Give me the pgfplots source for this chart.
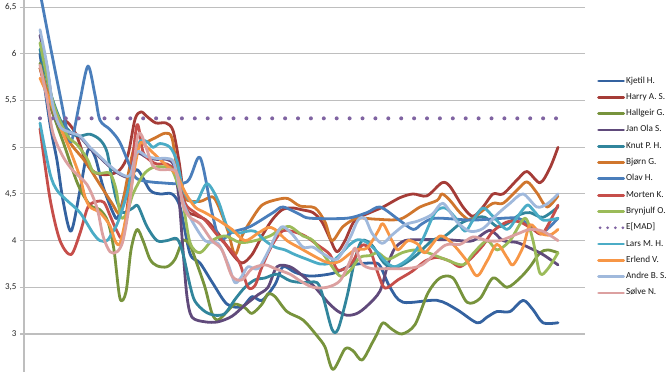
\documentclass[border=0pt]{standalone}
\usepackage{fontspec}
\setmainfont{Carlito}
\usepackage{pgfplots}
\pgfplotsset{compat=1.18}
\definecolor{cKjetil}{RGB}{52,98,160}
\definecolor{cHarry}{RGB}{165,60,55}
\definecolor{cHallgeir}{RGB}{119,147,60}
\definecolor{cJan}{RGB}{96,74,123}
\definecolor{cKnut}{RGB}{49,133,156}
\definecolor{cBjorn}{RGB}{208,118,45}
\definecolor{cOlav}{RGB}{74,126,187}
\definecolor{cMorten}{RGB}{198,78,74}
\definecolor{cBryn}{RGB}{155,187,89}
\definecolor{cEMAD}{RGB}{128,100,162}
\definecolor{cLars}{RGB}{75,172,198}
\definecolor{cErlend}{RGB}{247,150,70}
\definecolor{cAndre}{RGB}{160,185,220}
\definecolor{cSolve}{RGB}{220,160,160}
\definecolor{gridc}{RGB}{190,190,190}
\begin{document}
\begin{tikzpicture}
\begin{axis}[
  scale only axis, width=561pt, height=372pt,
  xmin=24, xmax=585, ymin=2.5924, ymax=6.578,
  axis x line=none, axis y line*=left,
  y axis line style={draw=gridc, line width=1.2pt, -},
  ytick={3,3.5,4,4.5,5,5.5,6,6.5},
  ymajorgrids, grid style={draw=gridc, line width=1.1pt},
  tick align=outside, major tick length=4pt,
  ytick style={draw=gridc, line width=1.1pt},
  /pgf/number format/assume math mode=true,
  yticklabel style={font=\fontsize{9}{10}\selectfont, text=black!85, /pgf/number format/.cd, use comma, fixed, precision=1},
  every axis plot/.append style={line width=2.8pt, smooth, line cap=round, line join=round},
  legend cell align=left,
  legend image code/.code={\draw[#1, line width=2.8pt] (0pt,0pt) -- (25pt,0pt);},
  legend style={at={(axis description cs:1.0214,0.796)}, anchor=north west, draw=none, fill=none, inner sep=0pt, row sep=6.3pt, font=\fontsize{9.2}{10}\selectfont, text=black!90, nodes={inner sep=1pt, text height=6pt, text depth=2pt}},
]
% Kjetil H.
\addplot[cKjetil] coordinates {(40,6.0) (50,5.25) (57,4.86) (63,4.43) (71,4.1) (80,4.54) (88,4.97) (95,4.9) (103,4.58) (113,4.30) (118,4.25) (127,4.58) (137,4.76) (150,4.54) (160,4.5) (172,4.5) (180,4.36) (190,3.86) (200,3.76) (213,3.54) (227,3.32) (242,3.29) (252,3.40) (262,3.36) (275,3.53) (283,3.72) (295,3.66) (310,3.62) (333,3.65) (353,3.74) (373,3.76) (380,3.73) (390,3.5) (403,3.34) (437,3.36) (457,3.26) (477,3.12) (487,3.18) (497,3.24) (510,3.24) (523,3.36) (533,3.26) (543,3.12) (558,3.12)};
\addlegendentry{Kjetil H.}
% Harry A. S.
\addplot[cHarry] coordinates {(40,5.85) (50,5.45) (58,5.25) (66,5.28) (76,5.14) (87,4.82) (97,4.72) (110,4.71) (120,4.76) (128,4.92) (135,5.3) (141,5.38) (148,5.32) (156,5.26) (166,5.26) (173,5.18) (179,4.85) (186,4.35) (196,4.27) (206,4.22) (218,4.08) (232,3.86) (242,3.76) (252,3.85) (262,4.05) (272,4.22) (282,4.33) (292,4.35) (302,4.33) (313,4.30) (322,4.2) (330,4.02) (337,3.88) (345,4.0) (355,4.22) (370,4.3) (383,4.36) (400,4.46) (413,4.5) (427,4.48) (442,4.62) (450,4.58) (463,4.36) (473,4.26) (483,4.36) (493,4.5) (503,4.5) (517,4.65) (527,4.74) (540,4.62) (550,4.78) (558,5.0)};
\addlegendentry{Harry A. S.}
% Hallgeir G.
\addplot[cHallgeir] coordinates {(40,5.9) (52,5.4) (65,5.0) (78,4.6) (90,4.38) (100,4.33) (108,4.2) (114,3.9) (120,3.38) (126,3.45) (131,3.9) (137,4.12) (143,4.0) (150,3.8) (157,3.73) (167,3.72) (175,3.8) (183,4.0) (190,3.95) (197,3.75) (205,3.5) (212,3.22) (218,3.15) (228,3.25) (235,3.32) (245,3.28) (252,3.22) (262,3.32) (268,3.43) (275,3.4) (287,3.24) (303,3.15) (317,2.98) (325,2.86) (333,2.62) (345,2.84) (353,2.82) (362,2.72) (372,2.9) (377,3.0) (383,3.12) (392,3.05) (402,3.0) (415,3.1) (428,3.44) (440,3.6) (453,3.6) (467,3.34) (480,3.38) (493,3.6) (507,3.5) (520,3.6) (530,3.72) (540,3.87) (548,3.9) (558,3.87)};
\addlegendentry{Hallgeir G.}
% Jan Ola S.
\addplot[cJan] coordinates {(40,6.2) (47,5.86) (53,5.43) (60,5.21) (70,5.15) (80,5.11) (90,4.99) (100,4.89) (110,4.79) (120,4.71) (130,4.69) (137,4.93) (147,4.89) (157,4.87) (167,4.87) (174,4.8) (179,4.45) (183,3.9) (187,3.4) (192,3.18) (205,3.13) (218,3.13) (232,3.19) (245,3.31) (258,3.42) (268,3.5) (277,3.72) (290,3.72) (303,3.62) (315,3.5) (327,3.35) (337,3.25) (347,3.2) (357,3.22) (367,3.3) (380,3.46) (388,3.75) (395,3.92) (405,4.0) (422,4.01) (445,4.01) (460,4.0) (473,4.0) (490,4.11) (503,4.0) (517,3.98) (530,3.92) (543,3.85) (558,3.74)};
\addlegendentry{Jan Ola S.}
% Knut P. H.
\addplot[cKnut] coordinates {(40,6.05) (50,5.6) (60,5.3) (67,5.2) (73,5.14) (80,5.12) (90,5.14) (100,5.08) (107,4.95) (113,4.6) (117,4.42) (123,4.3) (133,4.35) (138,4.37) (147,4.15) (157,4.0) (167,4.0) (177,4.02) (183,3.86) (190,3.52) (195,3.35) (205,3.24) (215,3.2) (225,3.22) (235,3.37) (245,3.5) (255,3.58) (265,3.6) (277,3.64) (290,3.57) (303,3.55) (317,3.55) (323,3.4) (332,3.05) (338,3.05) (347,3.4) (355,3.8) (362,4.0) (372,3.95) (385,3.75) (398,3.72) (415,3.83) (432,4.0) (445,4.05) (460,4.18) (473,4.24) (485,4.25) (497,4.15) (507,4.18) (520,4.28) (530,4.3) (543,4.25) (558,4.36)};
\addlegendentry{Knut P. H.}
% Bjorn G.
\addplot[cBjorn] coordinates {(40,5.85) (55,5.35) (70,5.05) (85,4.85) (100,4.6) (112,4.4) (120,4.3) (128,4.7) (135,5.02) (145,5.05) (155,5.1) (165,5.15) (172,5.1) (178,4.7) (185,4.45) (200,4.42) (212,4.47) (218,4.38) (228,4.1) (235,3.85) (242,4.05) (250,4.2) (262,4.38) (277,4.44) (288,4.45) (300,4.37) (315,4.35) (325,4.2) (332,4.0) (343,4.15) (357,4.24) (375,4.23) (400,4.23) (420,4.36) (437,4.43) (442,4.5) (450,4.43) (460,4.3) (470,4.22) (480,4.3) (493,4.4) (503,4.4) (517,4.54) (527,4.63) (537,4.51) (547,4.36) (558,4.48)};
\addlegendentry{Bjørn G.}
% Olav H.
\addplot[cOlav] coordinates {(40,6.66) (50,6.10) (60,5.56) (68,5.13) (72,5.08) (80,5.5) (88,5.87) (95,5.56) (100,5.29) (110,5.19) (120,5.05) (133,4.72) (140,4.65) (160,4.62) (187,4.63) (200,4.89) (212,4.30) (220,4.01) (232,4.09) (250,4.15) (273,4.30) (283,4.36) (300,4.28) (310,4.24) (347,4.24) (367,4.30) (380,4.36) (398,4.23) (413,4.12) (422,4.18) (435,4.24) (470,4.22) (490,4.23) (518,4.24) (532,4.14) (543,4.09) (558,4.24)};
\addlegendentry{Olav H.}
% Morten K.
\addplot[cMorten] coordinates {(40,5.2) (50,4.45) (60,4.0) (71,3.85) (80,4.08) (88,4.36) (97,4.42) (104,4.41) (110,4.27) (117,4.1) (123,4.05) (130,4.6) (137,5.24) (143,4.95) (150,4.86) (157,4.82) (167,4.82) (177,4.72) (185,4.4) (195,4.3) (205,4.22) (218,4.05) (232,3.88) (240,3.75) (248,3.5) (255,3.52) (262,3.72) (272,3.95) (282,4.1) (292,4.1) (305,4.05) (318,3.95) (330,3.85) (337,3.69) (345,3.7) (353,3.78) (362,3.95) (370,3.9) (378,3.65) (385,3.49) (398,3.58) (412,3.67) (425,3.78) (437,3.82) (450,3.78) (460,3.72) (470,3.8) (483,3.95) (493,4.1) (507,4.2) (520,4.2) (533,4.12) (543,4.08) (558,4.38)};
\addlegendentry{Morten K.}
% Brynjulf O.
\addplot[cBryn] coordinates {(40,6.12) (53,5.48) (67,5.13) (77,5.03) (87,4.88) (93,4.74) (100,4.72) (110,4.72) (116,4.55) (121,4.25) (127,4.3) (133,4.5) (143,4.7) (152,4.78) (163,4.79) (172,4.76) (182,4.45) (190,3.98) (200,3.87) (212,4.0) (225,4.05) (240,3.98) (255,4.0) (270,4.05) (280,4.12) (290,4.15) (303,4.05) (313,4.0) (327,3.8) (340,3.62) (350,3.68) (360,3.82) (370,3.84) (378,3.87) (388,3.8) (402,3.87) (415,3.9) (428,3.87) (445,3.8) (463,3.74) (473,3.86) (487,4.0) (497,3.9) (510,4.0) (525,4.24) (533,4.0) (540,3.65) (548,3.7) (558,3.87)};
\addlegendentry{Brynjulf O.}
% E[MAD]
\addplot[cEMAD, sharp plot, line width=4pt, dash pattern=on 0pt off 12.9pt, line cap=round,
  legend image code/.code={\draw[cEMAD, line width=3pt, dash pattern=on 0pt off 7.6pt, line cap=round] (1.5pt,0pt) -- (25pt,0pt);}]
  coordinates {(40,5.31) (556,5.31)};
\addlegendentry{E[MAD]}
% Lars M. H.
\addplot[cLars] coordinates {(40,5.26) (50,4.72) (57,4.54) (67,4.43) (80,4.3) (93,4.08) (100,4.0) (107,4.0) (112,4.08) (118,4.2) (127,4.5) (133,4.8) (140,5.06) (147,5.06) (153,5.0) (160,5.04) (170,5.0) (177,4.85) (183,4.55) (190,4.43) (197,4.42) (207,4.61) (218,4.43) (228,4.13) (238,4.08) (247,4.1) (255,4.1) (265,4.0) (275,3.93) (285,3.9) (295,3.85) (307,3.8) (320,3.75) (330,3.76) (340,3.85) (350,3.96) (358,4.01) (367,3.98) (377,3.88) (385,3.78) (395,3.72) (410,3.82) (422,4.0) (435,4.3) (445,4.35) (455,4.25) (465,4.1) (473,4.22) (483,4.35) (493,4.26) (507,4.12) (517,4.25) (527,4.38) (533,4.33) (543,4.22) (558,4.24)};
\addlegendentry{Lars M. H.}
% Erlend V.
\addplot[cErlend] coordinates {(40,5.74) (50,5.5) (60,5.22) (70,4.97) (80,4.68) (85,4.47) (90,4.36) (100,4.3) (110,4.16) (115,4.0) (120,3.97) (127,4.3) (133,4.68) (140,5.04) (147,5.0) (157,4.9) (167,4.8) (177,4.7) (185,4.52) (195,4.36) (205,4.3) (218,4.22) (232,4.12) (245,4.0) (258,4.08) (268,4.14) (275,4.12) (287,4.0) (300,3.92) (320,3.8) (330,3.76) (340,3.78) (355,3.9) (367,3.92) (378,4.1) (383,4.18) (392,4.0) (398,3.9) (408,4.0) (418,3.96) (425,3.87) (440,4.05) (453,3.96) (467,3.78) (477,3.62) (487,3.78) (497,3.96) (507,3.82) (513,3.74) (523,3.93) (530,4.17) (540,4.08) (550,4.06) (558,4.12)};
\addlegendentry{Erlend V.}
% Andre B. S.
\addplot[cAndre] coordinates {(40,6.26) (47,5.88) (53,5.44) (60,5.22) (70,5.16) (80,5.12) (90,5.0) (100,4.9) (110,4.8) (120,4.72) (130,4.7) (137,4.95) (147,4.9) (157,4.88) (167,4.88) (174,4.83) (182,4.45) (190,4.25) (205,4.0) (218,3.97) (228,3.75) (235,3.55) (242,3.62) (248,3.72) (258,3.7) (268,3.88) (277,4.08) (283,4.15) (293,4.06) (303,3.93) (313,3.93) (323,3.86) (337,3.8) (350,4.03) (358,4.22) (365,4.24) (372,4.08) (382,3.97) (392,4.06) (405,4.17) (418,4.21) (432,4.28) (443,4.4) (457,4.2) (470,4.1) (483,4.13) (497,4.28) (510,4.4) (523,4.5) (537,4.36) (548,4.4) (558,4.5)};
\addlegendentry{Andre B. S.}
% Solve N.
\addplot[cSolve] coordinates {(40,5.88) (47,5.52) (53,5.15) (63,4.9) (73,4.75) (87,4.6) (97,4.35) (103,4.05) (110,3.88) (117,3.88) (123,4.0) (130,4.43) (137,5.08) (141,5.14) (147,4.97) (153,4.8) (160,4.76) (170,4.76) (177,4.72) (183,4.38) (190,4.25) (200,4.18) (212,4.0) (222,3.9) (232,3.62) (242,3.58) (252,3.7) (265,3.74) (275,3.7) (290,3.64) (300,3.57) (313,3.5) (327,3.5) (340,3.57) (350,3.78) (355,3.92) (362,3.75) (372,3.7) (388,3.7) (405,3.7) (422,3.74) (445,3.95) (460,3.96) (473,4.04) (487,4.0) (500,4.0) (517,4.07) (530,4.12) (543,4.1) (558,4.0)};
\addlegendentry{Sølve N.}
\end{axis}
\pgfresetboundingbox
\path[use as bounding box] ([xshift=-24pt]current axis.south west) rectangle ([xshift=87pt]current axis.north east);
\end{tikzpicture}
\end{document}
